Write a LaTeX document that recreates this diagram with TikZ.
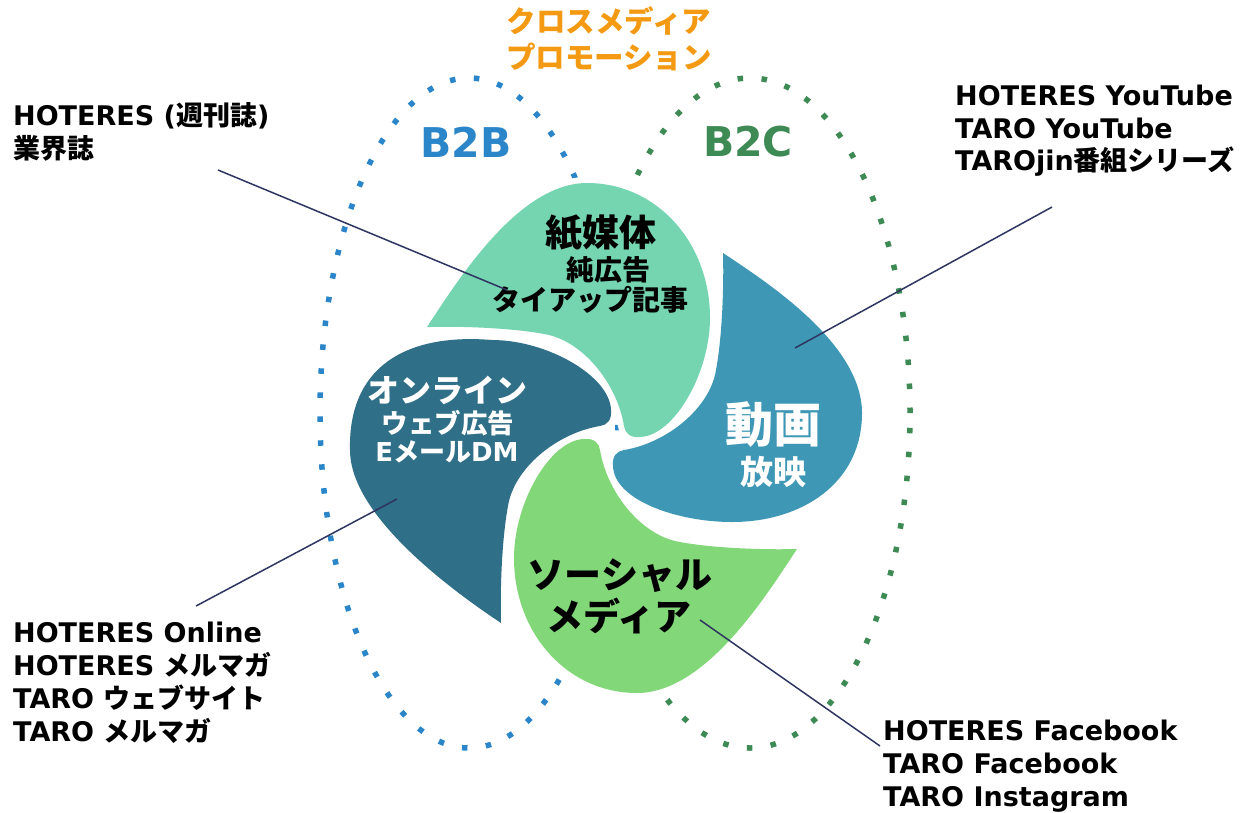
\documentclass[tikz,border=0pt]{standalone}
\usepackage{fontspec}
\setmainfont{DejaVu Sans}
\newfontfamily\jp{Noto Sans CJK JP}
\newcommand\J[1]{{\jp\bfseries #1}}
\definecolor{orangeT}{HTML}{F39A12}
\definecolor{bbblue}{HTML}{2A86C8}
\definecolor{bcgreen}{HTML}{3E8A55}
\definecolor{petalA}{HTML}{74D5B0}
\definecolor{petalB}{HTML}{3E97B5}
\definecolor{petalC}{HTML}{82D878}
\definecolor{petalD}{HTML}{2F6F87}
\definecolor{connc}{HTML}{2E3560}
% generic petal in "top" frame, relative to the pinwheel centre
\newcommand\petal[7]{\path[#1] (-185,-111) .. controls (-157,-153) and (#2) .. (#3) .. controls (#4) and (#5) .. (#6) .. controls (#7) and (62,-2) .. (28,-1) .. controls (18,0) and (13,-5) .. (12,-12) .. controls (5,-55) and (-30,-98) .. (-68,-104) .. controls (-100,-110) and (-150,-112) .. (-185,-111) -- cycle;}
\newcommand\petalTop[1]{\begin{scope}[shift={(612,438)}]\petal{#1}{-95,-255}{-25,-255}{45,-255}{98,-195}{98,-120}{98,-65}\end{scope}}
\newcommand\petalRight[1]{\begin{scope}[shift={(612,438)},rotate=-90]\petal{#1}{-95,-250}{-25,-250}{45,-250}{84,-190}{84,-120}{84,-65}\end{scope}}
\newcommand\petalBottom[1]{\begin{scope}[shift={(612,438)},rotate=-180]\petal{#1}{-95,-255}{-25,-255}{45,-255}{98,-195}{98,-120}{98,-65}\end{scope}}
\newcommand\petalLeft[1]{\begin{scope}[shift={(612,438)},rotate=-270]\petal{#1}{-80,-262}{-12,-262}{72,-264}{105,-205}{98,-120}{98,-65}\end{scope}}
\begin{document}
\begin{tikzpicture}[x=1pt,y=-1pt,
  dots/.style={line width=5.5pt, dash pattern=on 5.5pt off 18.5pt, line cap=butt},
  lbl/.style={anchor=base west, inner sep=0pt, font=\fontsize{27}{33}\selectfont\bfseries, text=black},
  ptxt/.style={inner sep=0pt, anchor=center},
  conn/.style={draw=connc, line width=1.5pt},
  halo/.style={draw=white, line width=12pt, line join=round}]
\useasboundingbox (0,0) rectangle (1260,812);
\fill[white] (0,0) rectangle (1260,812);

% dotted ellipses
\draw[dots, bbblue] (469,413) ellipse [x radius=149pt, y radius=335pt];
\draw[dots, bcgreen] (750,413) ellipse [x radius=160pt, y radius=335pt];

% petals: white halos, then fills
\petalTop{halo}\petalRight{halo}\petalBottom{halo}\petalLeft{halo}
\petalTop{fill=petalA}
\petalRight{fill=petalB}
\petalBottom{fill=petalC}
\petalLeft{fill=petalD}

% title
\node[ptxt, text=orangeT, font=\fontsize{29.5}{33}\selectfont] (t1) at (609,21) {\J{クロスメディア}};
\node[ptxt, text=orangeT, font=\fontsize{29.5}{33}\selectfont] (t2) at (609,57) {\J{プロモーション}};
\node[ptxt, text=bbblue, font=\fontsize{41}{45}\selectfont\bfseries] (b2b) at (466,142) {B2B};
\node[ptxt, text=bcgreen, font=\fontsize{41}{45}\selectfont\bfseries] (b2c) at (748,142) {B2C};

% petal texts
\node[ptxt, font=\fontsize{37}{40}\selectfont] (pa1) at (601,233) {\J{紙媒体}};
\node[ptxt, font=\fontsize{28}{30}\selectfont] (pa2) at (608,270) {\J{純広告}};
\node[ptxt, font=\fontsize{28}{30}\selectfont] (pa3) at (590,300) {\J{タイアップ記事}};
\node[ptxt, text=white, font=\fontsize{32}{34}\selectfont] (pd1) at (447,390) {\J{オンライン}};
\node[ptxt, text=white, font=\fontsize{26.5}{28}\selectfont] (pd2) at (448,423) {\J{ウェブ広告}};
\node[ptxt, text=white, font=\fontsize{26}{28}\selectfont\bfseries] (pd3) at (447,452) {E\J{メール}DM};
\node[ptxt, text=white, font=\fontsize{48}{50}\selectfont] (pb1) at (773,425) {\J{動画}};
\node[ptxt, text=white, font=\fontsize{33}{35}\selectfont] (pb2) at (773,472) {\J{放映}};
\node[ptxt, font=\fontsize{37}{40}\selectfont] (pc1) at (620,576) {\J{ソーシャル}};
\node[ptxt, font=\fontsize{37}{40}\selectfont] (pc2) at (619,616) {\J{メディア}};

% outer labels
\node[lbl] (l1a) at (13,125) {HOTERES (\J{週刊誌})};
\node[lbl] (l1b) at (13,158) {\J{業界誌}};
\node[lbl] (l2a) at (955,105) {HOTERES YouTube};
\node[lbl] (l2b) at (955,138) {TARO YouTube};
\node[lbl] (l2c) at (955,170) {TAROjin\J{番組シリーズ}};
\node[lbl] (l3a) at (13,642) {HOTERES Online};
\node[lbl] (l3b) at (13,675) {HOTERES \J{メルマガ}};
\node[lbl] (l3c) at (13,708) {TARO \J{ウェブサイト}};
\node[lbl] (l3d) at (13,741) {TARO \J{メルマガ}};
\node[lbl] (l4a) at (883,740) {HOTERES Facebook};
\node[lbl] (l4b) at (883,773) {TARO Facebook};
\node[lbl] (l4c) at (883,806) {TARO Instagram};

% connectors
\coordinate (c1s) at (218,170); \coordinate (c1e) at (507,290);
\coordinate (c2s) at (1052,207); \coordinate (c2e) at (795,348);
\coordinate (c3s) at (196,606); \coordinate (c3e) at (397,499);
\coordinate (c4s) at (880,746); \coordinate (c4e) at (700,620);
\draw[conn] (c1s) -- (c1e);
\draw[conn] (c2s) -- (c2e);
\draw[conn] (c3s) -- (c3e);
\draw[conn] (c4s) -- (c4e);
\end{tikzpicture}
\end{document}
